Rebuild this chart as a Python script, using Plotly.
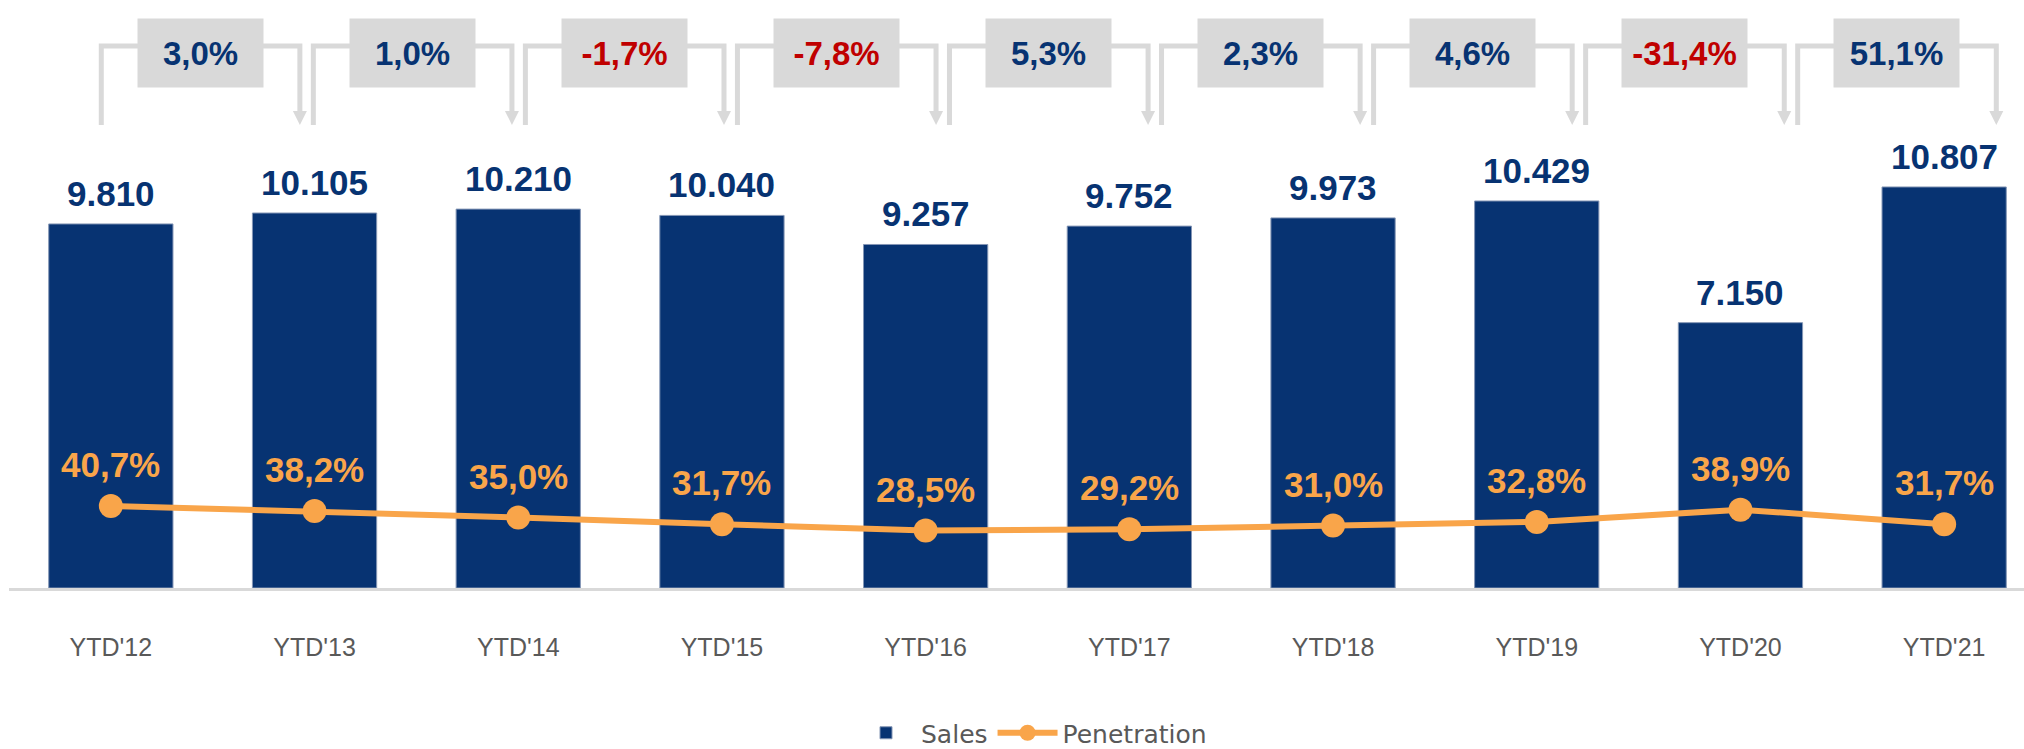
import plotly.graph_objects as go

# ---------------- data ----------------
categories = ["YTD'12", "YTD'13", "YTD'14", "YTD'15", "YTD'16",
              "YTD'17", "YTD'18", "YTD'19", "YTD'20", "YTD'21"]
sales = [9810, 10105, 10210, 10040, 9257, 9752, 9973, 10429, 7150, 10807]
penetration = [40.7, 38.2, 35.0, 31.7, 28.5, 29.2, 31.0, 32.8, 38.9, 31.7]
growth = [3.0, 1.0, -1.7, -7.8, 5.3, 2.3, 4.6, -31.4, 51.1]

# ---------------- style / layout constants ----------------
NAVY = "#073372"
ORANGE = "#F9A54A"
BOX_GREY = "#D9D9D9"
RED = "#C00000"
TEXT_GREY = "#595959"
FONT = "Liberation Sans, Arial, sans-serif"
LEGEND_FONT = "DejaVu Sans, sans-serif"

W, H = 2024, 749
M_L, M_R, M_T, M_B = 9, 0, 20, 161
PLOT_H = H - M_T - M_B
PLOT_W = W - M_L - M_R
CAT_PX = 203.7                      # pixels per category
X_MAX = -0.5 + PLOT_W / CAT_PX
Y1_MAX = 15306
Y2_MAX = 282


def py(px_from_top):
    """pixel row (from top of the figure) -> paper y"""
    return (H - M_B - px_from_top) / PLOT_H


def px_(px_from_left):
    """pixel column -> paper x"""
    return (px_from_left - M_L) / PLOT_W


def fmt_thousands(v):
    return f"{v:,}".replace(",", ".")


def fmt_pct(v):
    return f"{v:.1f}%".replace(".", ",")


x = list(range(len(categories)))

fig = go.Figure()
fig.add_trace(go.Bar(
    x=x, y=sales, name="Sales", width=0.61,
    legendgroup="sales",
    marker=dict(color=NAVY, line=dict(width=1, color="#8496B5")),
    hoverinfo="skip",
))
fig.add_trace(go.Scatter(
    x=x, y=penetration, name="Penetration", yaxis="y2",
    legendgroup="penetration",
    mode="lines+markers",
    line=dict(color=ORANGE, width=6),
    marker=dict(color=ORANGE, size=24),
    hoverinfo="skip",
))

annotations = []
shapes = []

# value labels on top of the bars
for xi, v in zip(x, sales):
    annotations.append(dict(
        x=xi, y=v, xref="x", yref="y", text=f"<b>{fmt_thousands(v)}</b>",
        showarrow=False, yanchor="bottom", yshift=9,
        font=dict(size=35, color=NAVY, family=FONT),
    ))

# penetration labels
for xi, v in zip(x, penetration):
    annotations.append(dict(
        x=xi, y=v, xref="x", yref="y2", text=f"<b>{fmt_pct(v)}</b>",
        showarrow=False, yanchor="bottom", yshift=20,
        font=dict(size=35, color=ORANGE, family=FONT),
    ))

# growth brackets at the top
STRETCH, START_OFF, ARROW_OFF = 1.041, -0.047, 0.928
Y_LINE, Y_BOTTOM, Y_BOX = 46, 125, 53
for i, g in enumerate(growth):
    xs = START_OFF + STRETCH * i
    xe = ARROW_OFF + STRETCH * i
    xm = (xs + xe) / 2
    shapes.append(dict(
        type="path", xref="x", yref="paper",
        path=(f"M {xs},{py(Y_BOTTOM)} L {xs},{py(Y_LINE)} "
              f"L {xe},{py(Y_LINE)} L {xe},{py(Y_BOTTOM - 12)}"),
        line=dict(color=BOX_GREY, width=5),
    ))
    shapes.append(dict(
        type="path", xref="x", yref="paper",
        xsizemode="pixel", ysizemode="pixel",
        xanchor=xe, yanchor=py(Y_BOTTOM),
        path="M -7,14 L 7,14 L 0,0 Z",
        fillcolor=BOX_GREY, line=dict(width=0),
    ))
    annotations.append(dict(
        x=xm, y=py(Y_BOX), xref="x", yref="paper",
        text=f"<b>{fmt_pct(g)}</b>", showarrow=False,
        width=123, height=66, bgcolor=BOX_GREY,
        xanchor="center", yanchor="middle",
        font=dict(size=33, color=RED if g < 0 else NAVY, family=FONT),
    ))

fig.update_layout(
    width=W, height=H, autosize=False,
    margin=dict(l=M_L, r=M_R, t=M_T, b=M_B, autoexpand=False),
    paper_bgcolor="white", plot_bgcolor="white",
    font=dict(family=FONT, color=TEXT_GREY),
    xaxis=dict(
        range=[-0.5, X_MAX], tickmode="array", tickvals=x, ticktext=categories,
        tickfont=dict(size=25, color=TEXT_GREY, family=FONT),
        showgrid=False, zeroline=False, ticks="",
        showline=True, linecolor=BOX_GREY, linewidth=3,
        ticklabelstandoff=35,
    ),
    yaxis=dict(range=[0, Y1_MAX], visible=False, showgrid=False),
    yaxis2=dict(range=[0, Y2_MAX], visible=False, overlaying="y",
                side="right", showgrid=False),
    legend=dict(
        orientation="h", x=px_(851), xanchor="left", y=py(733), yanchor="middle",
        font=dict(size=25, color=TEXT_GREY, family=LEGEND_FONT), itemwidth=60,
        traceorder="grouped", tracegroupgap=28,
    ),
    showlegend=True,
    annotations=annotations,
    shapes=shapes,
)

fig.write_html("out.html", config={"displayModeBar": False},
               post_script="document.body.style.margin='0';")
